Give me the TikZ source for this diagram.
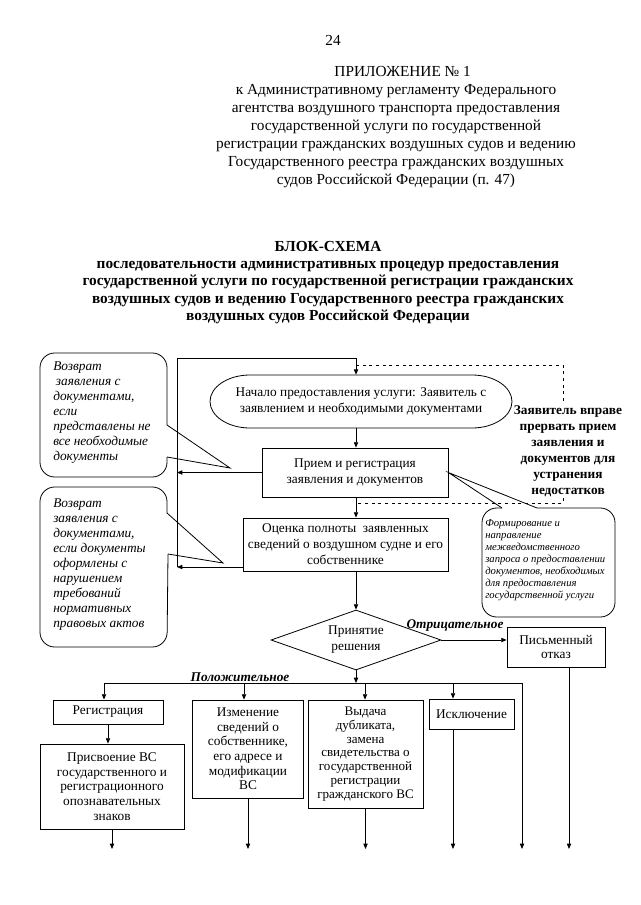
\documentclass[tikz,border=0pt]{standalone}
\usepackage{fontspec}
\setmainfont{Liberation Serif}
\usetikzlibrary{arrows.meta,shapes.geometric}

\begin{document}
\begin{tikzpicture}[x=0.75pt,y=0.75pt,yscale=-1,xscale=1,
  lin/.style={line width=0.6pt},
  strelka/.style={lin,-{Triangle[length=4pt,width=3.2pt]}},
  punktir/.style={lin,dash pattern=on 2.2pt off 2.8pt},
  blok/.style={draw,lin,align=center,inner sep=1pt,font=\fontsize{10}{11}\selectfont},
  vyn/.style={align=left,inner sep=0pt,font=\fontsize{10}{11.25}\selectfont\itshape},
  metka/.style={inner sep=0pt,font=\fontsize{10}{12}\selectfont\bfseries\itshape}]
\useasboundingbox (0,0) rectangle (640,905);

% Text Node
\node (nomer) at (333,40) {\fontsize{11.5}{13.5}\selectfont 24};
% Text Node
\node[align=center,font=\fontsize{11.5}{13.5}\selectfont] (prilozhenie) at (396,127) {\hspace{10pt}ПРИЛОЖЕНИЕ № 1\\к Административному регламенту Федерального\\агентства воздушного транспорта предоставления\\государственной услуги по государственной\\регистрации гражданских воздушных судов и ведению\\Государственного реестра гражданских воздушных\\судов Российской Федерации (п. 47)};
% Text Node
\node[align=center,font=\fontsize{11.5}{12.9}\selectfont\bfseries] (zagolovok) at (328,282.5) {БЛОК-СХЕМА\\последовательности административных процедур предоставления\\государственной услуги по государственной регистрации гражданских\\воздушных судов и ведению Государственного реестра гражданских\\воздушных судов Российской Федерации};

%Shape: Start [id:nachalo]
\draw[lin] (250,375) -- (472,375) arc[start angle=-90,end angle=90,x radius=40,y radius=26.5] -- (250,428) arc[start angle=90,end angle=270,x radius=40,y radius=26.5] -- cycle;
\node[align=center,minimum width=226.5pt,minimum height=39.75pt,inner sep=0pt,font=\fontsize{10}{12.5}\selectfont] (nachalo) at (361,401.5) {Начало предоставления услуги: Заявитель с\\заявлением и необходимыми документами};

%Shape: Rectangle
\node[blok,minimum width=139.5pt,minimum height=36.75pt,font=\fontsize{10}{12}\selectfont] (priem) at (355,472.5) {Прием и регистрация\\заявления и документов};
\node[blok,minimum width=153.75pt,minimum height=39.75pt,font=\fontsize{10}{12}\selectfont] (ocenka) at (345.5,544.5) {Оценка полноты\ \ заявленных\\сведений о воздушном судне и его\\собственнике};
%Shape: Diamond
\node[draw,lin,diamond,aspect=2.83,minimum width=127.5pt,minimum height=45pt,inner sep=0pt,align=center,font=\fontsize{10}{12}\selectfont] (reshenie) at (356,640) {Принятие\\решения};
\node[blok,minimum width=73.5pt,minimum height=30pt] (otkaz) at (556,647) {Письменный\\отказ};
\node[blok,minimum width=82.5pt,minimum height=18pt] (registraciya) at (108,712) {Регистрация};
\node[blok,minimum width=108pt,minimum height=63.75pt] (prisvoenie) at (112,786.5) {Присвоение ВС\\государственного и\\регистрационного\\опознавательных\\знаков};
\node[blok,minimum width=83.25pt,minimum height=73.5pt] (izmenenie) at (248,749) {Изменение\\сведений о\\собственнике,\\его адресе и\\модификации\\ВС};
\node[blok,minimum width=86.25pt,minimum height=81pt,font=\fontsize{9.8}{10.3}\selectfont] (vydacha) at (365.5,754) {Выдача\\дубликата,\\замена\\свидетельства о\\государственной\\регистрации\\гражданского ВС};
\node[blok,minimum width=63.75pt,minimum height=22.5pt] (isklyuchenie) at (471.5,714) {Исключение};

% coordinates
\coordinate (os) at (356,0);
\coordinate (levo-verh) at (177,358);
\coordinate (levo-niz) at (177,567);
\coordinate (pv1) at (563,365);
\coordinate (pv2) at (563,503);
\coordinate (niz) at (0,849);
\coordinate (k1) at (104,683);
\coordinate (k2) at (244,683);
\coordinate (k3) at (365,683);
\coordinate (k4) at (453,683);
\coordinate (k5) at (522,683);

%Straight Lines
\draw[strelka] (levo-niz) -- (levo-verh) -- (levo-verh -| os) -- (nachalo.north -| os);
\draw[strelka] (nachalo.south -| os) -- (priem.north -| os);
\draw[strelka] (priem.west) -- (levo-verh |- priem.west);
\draw[strelka] (priem.south -| os) -- (ocenka.north -| os);
\draw[strelka] (levo-niz -| ocenka.west) -- (levo-niz);
\draw[strelka] (ocenka.south -| os) -- (reshenie.north);
\draw[strelka] (reshenie.east) -- (otkaz.west |- reshenie.east);
\draw[strelka] (reshenie.south) -- (reshenie.south |- k1);
\draw[lin] (k1) -- (k5);
\draw[strelka] (k1) -- (k1 |- registraciya.north);
\draw[strelka] (k2) -- (k2 |- izmenenie.north);
\draw[strelka] (k3) -- (k3 |- vydacha.north);
\draw[strelka] (k4) -- (k4 |- isklyuchenie.north);
\draw[strelka] (k5) -- (k5 |- niz);
\draw[strelka] (registraciya.south) -- (registraciya.south |- prisvoenie.north);
\draw[strelka] (prisvoenie.south) -- (prisvoenie.south |- niz);
\draw[strelka] (izmenenie.south) -- (izmenenie.south |- niz);
\draw[strelka] (vydacha.south) -- (vydacha.south |- niz);
\draw[strelka] (k4 |- isklyuchenie.south) -- (k4 |- niz);
\draw[strelka] (otkaz.south -| 569,0) -- (569,0 |- niz);

%Dashed Lines
\draw[punktir] (os |- pv1) -- (pv1) -- (pv2) -- (os |- pv2);

%Shape: Callout 1
\coordinate (ostrie1) at (230,468);
\draw[lin,rounded corners=11pt] (167,425) -- (167,353) -- (40,353) -- (40,477) -- (167,477) -- (167,457);
\draw[lin] (167,425) -- (ostrie1) -- (167,457);
\node[vyn,anchor=west] (vozvrat1) at (53,413) {Возврат\\\hspace{2pt}заявления с\\документами,\\если\\представлены не\\все необходимые\\документы};

%Shape: Callout 2
\coordinate (ostrie2) at (223,563);
\draw[lin,rounded corners=11pt] (167,513) -- (167,487) -- (40,487) -- (40,647) -- (167,647) -- (168,554);
\draw[lin] (167,513) -- (ostrie2) -- (168,554);
\node[vyn,anchor=west] (vozvrat2) at (53,565) {Возврат\\заявления с\\документами,\\если документы\\оформлены с\\нарушением\\требований\\нормативных\\правовых актов};

%Shape: Callout 3
\coordinate (ostrie3) at (priem.east);
\draw[lin,rounded corners=11pt] (537,508) -- (615,508) -- (615,617) -- (482,617) -- (482,508) -- (502,508);
\draw[lin] (502,508) -- (ostrie3) -- (537,508);
\node[align=left,inner sep=0pt,anchor=west,font=\fontsize{8}{9}\selectfont\itshape] (zapros) at (485,560) {Формирование и\\направление\\межведомственного\\запроса о предоставлении\\документов, необходимых\\для предоставления\\государственной услуги};

% Text Node
\node[align=center,fill=white,inner sep=1pt,font=\fontsize{10}{12}\selectfont\bfseries] (zayavitel) at (568,451) {Заявитель вправе\\прервать прием\\заявления и\\документов для\\устранения\\недостатков};
% Text Node
\node[metka,anchor=base] (otricatelnoe) at (455,628) {Отрицательное};
\node[metka,anchor=base] (polozhitelnoe) at (240,681) {Положительное};

\end{tikzpicture}
\end{document}
